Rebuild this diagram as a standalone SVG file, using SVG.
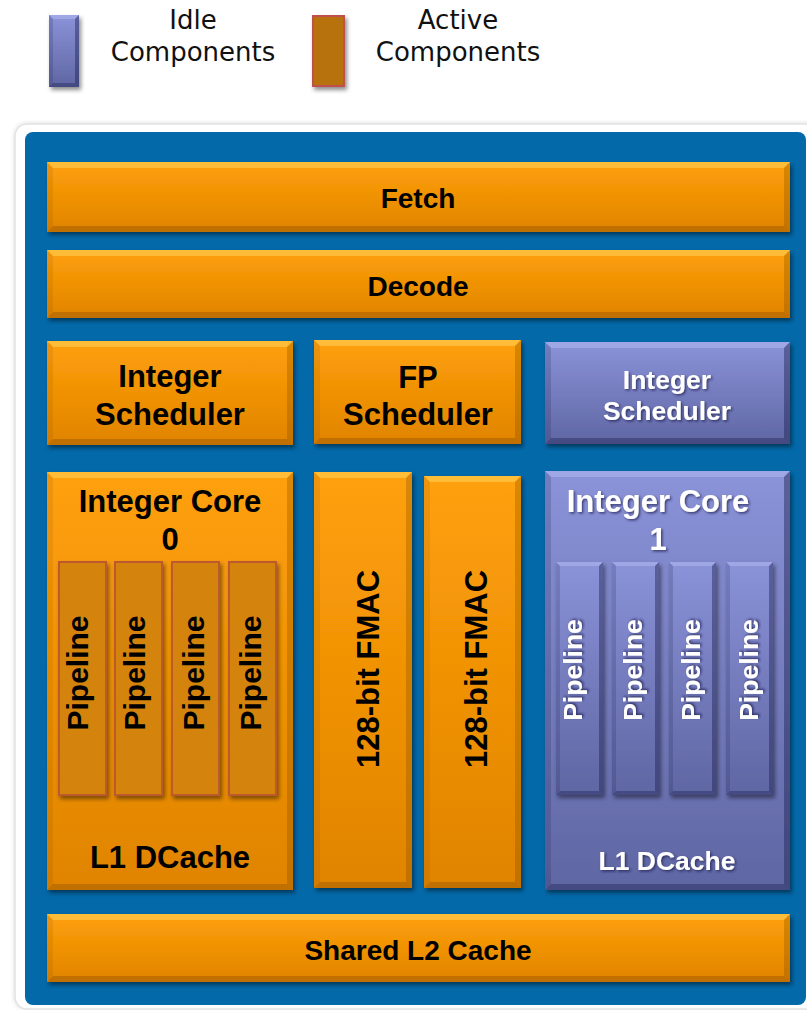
<svg xmlns="http://www.w3.org/2000/svg" width="807" height="1010" viewBox="0 0 807 1010">
  <defs>
    <linearGradient id="og" x1="0" y1="0" x2="0" y2="1">
      <stop offset="0" stop-color="#FFA00A"/>
      <stop offset="1" stop-color="#E08400"/>
    </linearGradient>
    <linearGradient id="ig" x1="0" y1="0" x2="0" y2="1">
      <stop offset="0" stop-color="#8B93D9"/>
      <stop offset="1" stop-color="#5F66A3"/>
    </linearGradient>
    <filter id="drop" x="-10%" y="-10%" width="130%" height="130%">
      <feDropShadow dx="2" dy="3" stdDeviation="2" flood-color="#000" flood-opacity="0.45"/>
    </filter>
    <filter id="tshadow" x="-10%" y="-20%" width="130%" height="150%">
      <feDropShadow dx="1.5" dy="1.5" stdDeviation="1" flood-color="#1a1f4a" flood-opacity="0.7"/>
    </filter>
    <filter id="card" x="-5%" y="-5%" width="110%" height="110%">
      <feDropShadow dx="0" dy="0" stdDeviation="2" flood-color="#000" flood-opacity="0.15"/>
    </filter>
  </defs>
  <style>
    .obody { fill: url(#og); }
    .ibody { fill: url(#ig); }
    .hl { fill: #FFE070; opacity: 0.45; }
    .ihl { fill: #C8CDFF; opacity: 0.35; }
    .lo { fill: #6A3A00; opacity: 0.28; }
    .ilo { fill: #1E2250; opacity: 0.4; }
    .side { fill: #7A4400; opacity: 0.12; }
    .iside { fill: #1E2250; opacity: 0.2; }
    .rside { fill: #6A3A00; opacity: 0.25; }
    .irside { fill: #1E2250; opacity: 0.45; }
    .lbl { font-family: "Liberation Sans", Arial, sans-serif; font-weight: bold; fill: #000; text-anchor: middle; }
    .ilbl { font-family: "Liberation Sans", Arial, sans-serif; font-weight: bold; fill: #fff; text-anchor: middle; filter: url(#tshadow); }
    .leg { font-family: "DejaVu Sans", Verdana, sans-serif; font-size: 26px; fill: #111; text-anchor: middle; }
    .pipe { fill: #D4840C; stroke: #BC5A2E; stroke-width: 2; }
  </style>

  <!-- legend -->
  <g id="legend-idle">
    <g filter="url(#drop)">
      <rect x="49" y="15" width="30" height="72" class="ibody"/>
      <polygon class="ihl" points="49,15 79,15 75,19 53,19"/>
      <polygon class="ilo" points="49,87 79,87 75,83 53,83"/>
      <polygon class="iside" points="49,15 53,19 53,83 49,87"/>
      <polygon class="irside" points="79,15 75,19 75,83 79,87"/>
    </g>
    <text class="leg" x="193" y="29">Idle</text>
    <text class="leg" x="193" y="61">Components</text>
  </g>
  <g id="legend-active">
    <rect x="313" y="16" width="31" height="70" fill="#B8720A" stroke="#C0504D" stroke-width="2" filter="url(#drop)"/>
    <text class="leg" x="458" y="29">Active</text>
    <text class="leg" x="458" y="61">Components</text>
  </g>

  <!-- chip background -->
  <g id="chip">
    <rect x="15" y="124" width="810" height="885" rx="12" fill="#fff" stroke="#e2e2e2" stroke-width="1.5" filter="url(#card)"/>
    <rect x="25" y="132" width="781" height="873" rx="8" fill="#0369A9"/>
  </g>

  <!-- front end -->
  <g id="fetch">
    <g filter="url(#drop)">
      <rect x="47" y="162" width="743" height="70" class="obody"/>
      <polygon class="hl" points="47,162 790,162 784,168 53,168"/>
      <polygon class="lo" points="47,232 790,232 784,226 53,226"/>
      <polygon class="side" points="47,162 53,168 53,226 47,232"/>
      <polygon class="rside" points="790,162 784,168 784,226 790,232"/>
    </g>
    <text class="lbl" x="418" y="208" font-size="28">Fetch</text>
  </g>

  <g id="decode">
    <g filter="url(#drop)">
      <rect x="47" y="250" width="743" height="68" class="obody"/>
      <polygon class="hl" points="47,250 790,250 784,256 53,256"/>
      <polygon class="lo" points="47,318 790,318 784,312 53,312"/>
      <polygon class="side" points="47,250 53,256 53,312 47,318"/>
      <polygon class="rside" points="790,250 784,256 784,312 790,318"/>
    </g>
    <text class="lbl" x="418" y="296" font-size="28">Decode</text>
  </g>

  <!-- schedulers -->
  <g id="int-scheduler-0">
    <g filter="url(#drop)">
      <rect x="47" y="341" width="246" height="104" class="obody"/>
      <polygon class="hl" points="47,341 293,341 287,347 53,347"/>
      <polygon class="lo" points="47,445 293,445 287,439 53,439"/>
      <polygon class="side" points="47,341 53,347 53,439 47,445"/>
      <polygon class="rside" points="293,341 287,347 287,439 293,445"/>
    </g>
    <text class="lbl" x="170" y="387" font-size="31">Integer</text>
    <text class="lbl" x="170" y="425" font-size="31">Scheduler</text>
  </g>

  <g id="fp-scheduler">
    <g filter="url(#drop)">
      <rect x="314" y="340" width="207" height="104" class="obody"/>
      <polygon class="hl" points="314,340 521,340 515,346 320,346"/>
      <polygon class="lo" points="314,444 521,444 515,438 320,438"/>
      <polygon class="side" points="314,340 320,346 320,438 314,444"/>
      <polygon class="rside" points="521,340 515,346 515,438 521,444"/>
    </g>
    <text class="lbl" x="418" y="388" font-size="31">FP</text>
    <text class="lbl" x="418" y="425" font-size="31">Scheduler</text>
  </g>

  <g id="int-scheduler-1">
    <g filter="url(#drop)">
      <rect x="545" y="342" width="245" height="102" class="ibody"/>
      <polygon class="ihl" points="545,342 790,342 784,348 551,348"/>
      <polygon class="ilo" points="545,444 790,444 784,438 551,438"/>
      <polygon class="iside" points="545,342 551,348 551,438 545,444"/>
      <polygon class="irside" points="790,342 784,348 784,438 790,444"/>
    </g>
    <text class="ilbl" x="667" y="389" font-size="26.5">Integer</text>
    <text class="ilbl" x="667" y="420" font-size="26.5">Scheduler</text>
  </g>

  <!-- integer core 0 -->
  <g id="int-core-0">
    <g filter="url(#drop)">
      <rect x="47" y="472" width="246" height="418" class="obody"/>
      <polygon class="hl" points="47,472 293,472 287,478 53,478"/>
      <polygon class="lo" points="47,890 293,890 287,884 53,884"/>
      <polygon class="side" points="47,472 53,478 53,884 47,890"/>
      <polygon class="rside" points="293,472 287,478 287,884 293,890"/>
    </g>
    <text class="lbl" x="170" y="512" font-size="31">Integer Core</text>
    <text class="lbl" x="170" y="550" font-size="31">0</text>
    <text class="lbl" x="170" y="868" font-size="31">L1 DCache</text>
  </g>

  <g id="core0-pipelines">
    <g filter="url(#drop)">
      <rect class="pipe" x="59" y="562" width="47" height="233"/>
      <rect class="pipe" x="115" y="562" width="47" height="233"/>
      <rect class="pipe" x="172" y="562" width="47" height="233"/>
      <rect class="pipe" x="229" y="562" width="47" height="233"/>
    </g>
    <text class="lbl" font-size="30" transform="translate(88,673) rotate(-90)">Pipeline</text>
    <text class="lbl" font-size="30" transform="translate(145,673) rotate(-90)">Pipeline</text>
    <text class="lbl" font-size="30" transform="translate(204,673) rotate(-90)">Pipeline</text>
    <text class="lbl" font-size="30" transform="translate(261,673) rotate(-90)">Pipeline</text>
  </g>

  <!-- floating point units -->
  <g id="fmac-0">
    <g filter="url(#drop)">
      <rect x="314" y="472" width="98" height="416" class="obody"/>
      <polygon class="hl" points="314,472 412,472 406,478 320,478"/>
      <polygon class="lo" points="314,888 412,888 406,882 320,882"/>
      <polygon class="side" points="314,472 320,478 320,882 314,888"/>
      <polygon class="rside" points="412,472 406,478 406,882 412,888"/>
    </g>
    <text class="lbl" font-size="31" transform="translate(379,669) rotate(-90)">128-bit FMAC</text>
  </g>

  <g id="fmac-1">
    <g filter="url(#drop)">
      <rect x="424" y="476" width="97" height="412" class="obody"/>
      <polygon class="hl" points="424,476 521,476 515,482 430,482"/>
      <polygon class="lo" points="424,888 521,888 515,882 430,882"/>
      <polygon class="side" points="424,476 430,482 430,882 424,888"/>
      <polygon class="rside" points="521,476 515,482 515,882 521,888"/>
    </g>
    <text class="lbl" font-size="31" transform="translate(487,669) rotate(-90)">128-bit FMAC</text>
  </g>

  <!-- integer core 1 -->
  <g id="int-core-1">
    <g filter="url(#drop)">
      <rect x="545" y="471" width="245" height="419" class="ibody"/>
      <polygon class="ihl" points="545,471 790,471 784,477 551,477"/>
      <polygon class="ilo" points="545,890 790,890 784,884 551,884"/>
      <polygon class="iside" points="545,471 551,477 551,884 545,890"/>
      <polygon class="irside" points="790,471 784,477 784,884 790,890"/>
    </g>
    <text class="ilbl" x="658" y="512" font-size="31">Integer Core</text>
    <text class="ilbl" x="658" y="550" font-size="31">1</text>
    <text class="ilbl" x="667" y="870" font-size="26.5">L1 DCache</text>
  </g>

  <g id="core1-pipelines">
    <g filter="url(#drop)">
      <rect x="556" y="562" width="47" height="233" class="ibody"/>
      <polygon class="ihl" points="556,562 603,562 599,566 560,566"/>
      <polygon class="ilo" points="556,795 603,795 599,791 560,791"/>
      <polygon class="iside" points="556,562 560,566 560,791 556,795"/>
      <polygon class="irside" points="603,562 599,566 599,791 603,795"/>

      <rect x="612" y="562" width="47" height="233" class="ibody"/>
      <polygon class="ihl" points="612,562 659,562 655,566 616,566"/>
      <polygon class="ilo" points="612,795 659,795 655,791 616,791"/>
      <polygon class="iside" points="612,562 616,566 616,791 612,795"/>
      <polygon class="irside" points="659,562 655,566 655,791 659,795"/>

      <rect x="669" y="562" width="47" height="233" class="ibody"/>
      <polygon class="ihl" points="669,562 716,562 712,566 673,566"/>
      <polygon class="ilo" points="669,795 716,795 712,791 673,791"/>
      <polygon class="iside" points="669,562 673,566 673,791 669,795"/>
      <polygon class="irside" points="716,562 712,566 712,791 716,795"/>

      <rect x="726" y="562" width="47" height="233" class="ibody"/>
      <polygon class="ihl" points="726,562 773,562 769,566 730,566"/>
      <polygon class="ilo" points="726,795 773,795 769,791 730,791"/>
      <polygon class="iside" points="726,562 730,566 730,791 726,795"/>
      <polygon class="irside" points="773,562 769,566 769,791 773,795"/>
    </g>
    <text class="ilbl" font-size="26.5" transform="translate(582,670) rotate(-90)">Pipeline</text>
    <text class="ilbl" font-size="26.5" transform="translate(642,670) rotate(-90)">Pipeline</text>
    <text class="ilbl" font-size="26.5" transform="translate(700,670) rotate(-90)">Pipeline</text>
    <text class="ilbl" font-size="26.5" transform="translate(758,670) rotate(-90)">Pipeline</text>
  </g>

  <!-- shared cache -->
  <g id="l2-cache">
    <g filter="url(#drop)">
      <rect x="47" y="914" width="743" height="68" class="obody"/>
      <polygon class="hl" points="47,914 790,914 784,920 53,920"/>
      <polygon class="lo" points="47,982 790,982 784,976 53,976"/>
      <polygon class="side" points="47,914 53,920 53,976 47,982"/>
      <polygon class="rside" points="790,914 784,920 784,976 790,982"/>
    </g>
    <text class="lbl" x="418" y="960" font-size="28">Shared L2 Cache</text>
  </g>

  <!-- no connectors in this block diagram -->
  <g id="connectors"/>
</svg>
